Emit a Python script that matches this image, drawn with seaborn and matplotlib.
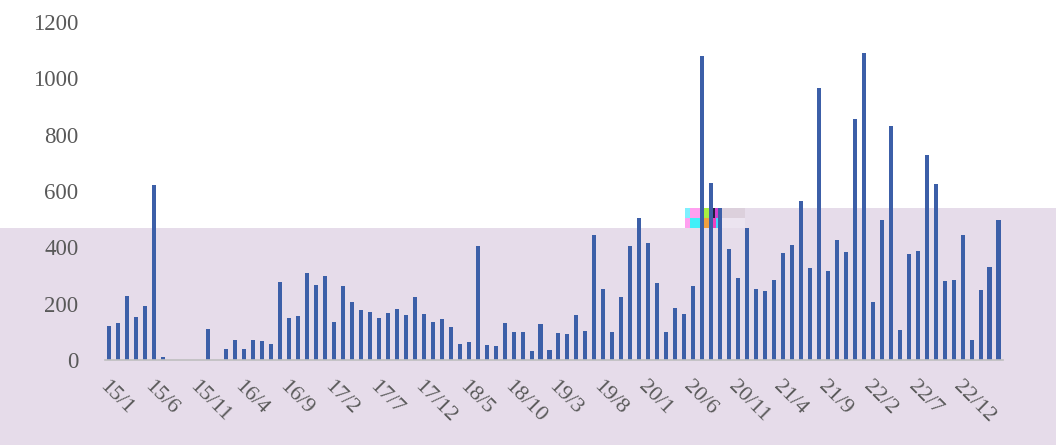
import numpy as np
import pandas as pd
import matplotlib
matplotlib.use("Agg")
import matplotlib.pyplot as plt
from matplotlib.patches import Rectangle
import seaborn as sns

# month labels 15/1 .. 23/4
years = [15, 16, 17, 18, 19, 20, 21, 22, 23]
months = [f"{y}/{m}" for y in years for m in range(1, 13)][:100]

values = [122, 130, 227, 154, 190, 621, 12, 0, 0, 0,
          0, 109, 0, 39, 72, 39, 72, 66, 58, 276,
          149, 157, 308, 267, 299, 135, 263, 207, 176, 172,
          149, 168, 180, 159, 223, 163, 135, 144, 117, 58,
          63, 404, 53, 49, 130, 98, 98, 31, 127, 36,
          95, 91, 159, 103, 444, 253, 98, 223, 404, 503,
          417, 272, 98, 186, 162, 263, 1080, 630, 540, 395,
          292, 467, 253, 245, 285, 381, 407, 566, 325, 967,
          317, 425, 385, 857, 1090, 207, 498, 831, 107, 375,
          386, 727, 626, 280, 285, 444, 71, 249, 330, 498]

yticks = [0, 200, 400, 600, 800, 1000, 1200]

df = pd.DataFrame({"month": months, "value": values})

sns.set_theme(style="white")
plt.rcParams["font.family"] = ["Liberation Serif", "DejaVu Serif"]

fig = plt.figure(figsize=(10.56, 4.45), dpi=100)
fig.patch.set_facecolor("white")

# lavender background band seen in the reference, drawn on a back axes
bg = fig.add_axes([0, 0, 1, 1], zorder=0)
bg.set_xlim(0, 1056)
bg.set_ylim(445, 0)
bg.axis("off")
lav = "#E6DCEA"
bg.add_patch(Rectangle((0, 228), 685, 217, facecolor=lav, edgecolor="none"))
bg.add_patch(Rectangle((685, 208), 371, 237, facecolor=lav, edgecolor="none"))
# small colour glitch blocks
glitch = [(685, 208, 5, 10, "#7FF0FF"), (690, 208, 14, 10, "#FFA0F0"),
          (704, 208, 8, 10, "#A8F040"), (712, 208, 3, 10, "#202040"),
          (715, 208, 7, 10, "#D040D0"), (722, 208, 23, 10, "#DCD0DC"),
          (685, 218, 5, 10, "#FFA0F0"), (690, 218, 14, 10, "#40F0F8"),
          (704, 218, 8, 10, "#F0A040"), (712, 218, 4, 10, "#F040C0"),
          (716, 218, 6, 10, "#40D8FF"), (722, 218, 23, 10, "#ECE4F0")]
for gx, gy, gw, gh, gc in glitch:
    bg.add_patch(Rectangle((gx, gy), gw, gh, facecolor=gc, edgecolor="none"))

ax = fig.add_axes([0.0994, 0.191, 0.8504, 0.7596], zorder=1)
ax.patch.set_alpha(0)

sns.barplot(data=df, x="month", y="value", color="#3C5FA8", width=0.45,
            saturation=1, linewidth=0, ax=ax)

ax.set_ylim(0, 1200)
ax.set_xlim(-0.5, len(months) - 0.5)
ax.set_yticks(yticks)
ax.set_yticklabels([str(v) for v in yticks], fontsize=16.5, color="#595959")
ax.tick_params(axis="y", length=0, pad=19)

lab_pos = list(range(0, len(months), 5))
ax.set_xticks(lab_pos)
ax.set_xticklabels([months[i] for i in lab_pos], rotation=-45, ha="left",
                   va="top", rotation_mode="anchor", fontsize=16, color="#595959")
ax.tick_params(axis="x", which="major", length=0, pad=12)
ax.set_xticks(np.arange(-0.5, len(months), 5), minor=True)
ax.tick_params(axis="x", which="minor", length=5, color="#BFBFBF", width=1.2,
               direction="out")

for s in ["top", "right", "left"]:
    ax.spines[s].set_visible(False)
ax.spines["bottom"].set_color("#BFBFBF")
ax.spines["bottom"].set_linewidth(1.2)
ax.set_xlabel("")
ax.set_ylabel("")

plt.savefig("out.png", dpi=100)
plt.close()
